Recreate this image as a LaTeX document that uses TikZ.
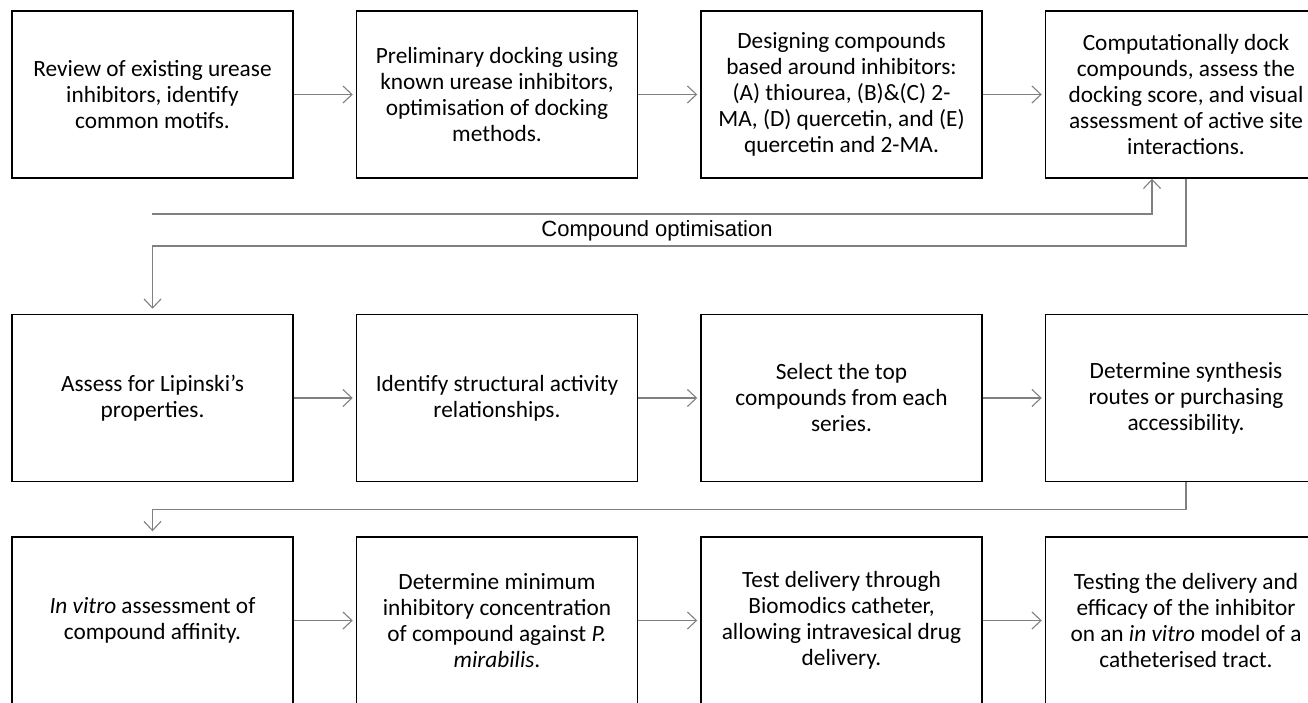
\documentclass[tikz,border=0pt]{standalone}
\usepackage{fontspec}
\setmainfont{Carlito}
\newfontfamily\loopfont{Liberation Sans}
\usepackage{tikz}
\usetikzlibrary{positioning,arrows.meta}

\begin{document}
\begin{tikzpicture}[x=1pt, y=1pt,
      stepbox/.style={draw=black, line width=1.5pt, minimum width=281pt, minimum height=167pt,
         align=center, inner sep=4pt, font=\fontsize{23.3}{26}\selectfont},
      flow/.style={draw=black!50, line width=1.1pt, -{Straight Barb[length=9pt, width=17pt, line width=1.1pt]}}]
   \clip (0,0) rectangle (1308,702);
   \node[stepbox] (review) at (152.5,607.5) {Review of existing urease\\inhibitors, identify\\common motifs.};
   \node[stepbox, right=62pt of review] (predock) {Preliminary docking using\\known urease inhibitors,\\optimisation of docking\\methods.};
   \node[stepbox, right=62pt of predock] (design) {Designing compounds\\based around inhibitors:\\(A) thiourea, (B)\&(C) 2-\\MA, (D) quercetin, and (E)\\quercetin and 2-MA.};
   \node[stepbox, right=62pt of design] (dock) {Computationally dock\\compounds, assess the\\docking score, and visual\\assessment of active site\\interactions.};
   \node[stepbox, below=135pt of review] (lipinski) {Assess for Lipinski’s\\properties.};
   \node[stepbox, right=62pt of lipinski] (sar) {Identify structural activity\\relationships.};
   \node[stepbox, right=62pt of sar] (select) {Select the top\\compounds from each\\series.};
   \node[stepbox, right=62pt of select] (synth) {Determine synthesis\\routes or purchasing\\accessibility.};
   \node[stepbox, below=54pt of lipinski] (invitro) {\textit{In vitro} assessment of\\compound affinity.};
   \node[stepbox, right=62pt of invitro] (mic) {Determine minimum\\inhibitory concentration\\of compound against \textit{P.}\\\textit{mirabilis}.};
   \node[stepbox, right=62pt of mic] (delivery) {Test delivery through\\Biomodics catheter,\\allowing intravesical drug\\delivery.};
   \node[stepbox, right=62pt of delivery] (model) {Testing the delivery and\\efficacy of the inhibitor\\on an \textit{in vitro} model of a\\catheterised tract.};
   \coordinate (optstart) at (152,488);
   \coordinate (optback) at (1152,456);
   \node[font=\loopfont\fontsize{22}{24}\selectfont] (optlabel) at (657,471) {Compound optimisation};
   \draw[flow, shorten >=3pt] (review) -- (predock);
   \draw[flow, shorten >=3pt] (predock) -- (design);
   \draw[flow, shorten >=3pt] (design) -- (dock);
   \draw[flow, shorten >=3pt] (lipinski) -- (sar);
   \draw[flow, shorten >=3pt] (sar) -- (select);
   \draw[flow, shorten >=3pt] (select) -- (synth);
   \draw[flow, shorten >=3pt] (invitro) -- (mic);
   \draw[flow, shorten >=3pt] (mic) -- (delivery);
   \draw[flow, shorten >=3pt] (delivery) -- (model);
   \draw[flow] (optstart) -| (dock.south -| optback);
   \draw[flow, shorten >=5pt] (dock.south) |- (optback -| lipinski.north) -- (lipinski.north);
   \draw[flow, shorten >=5pt] (synth.south) |- ([yshift=-27pt]synth.south -| invitro.north) -- (invitro.north);
\end{tikzpicture}
\end{document}
